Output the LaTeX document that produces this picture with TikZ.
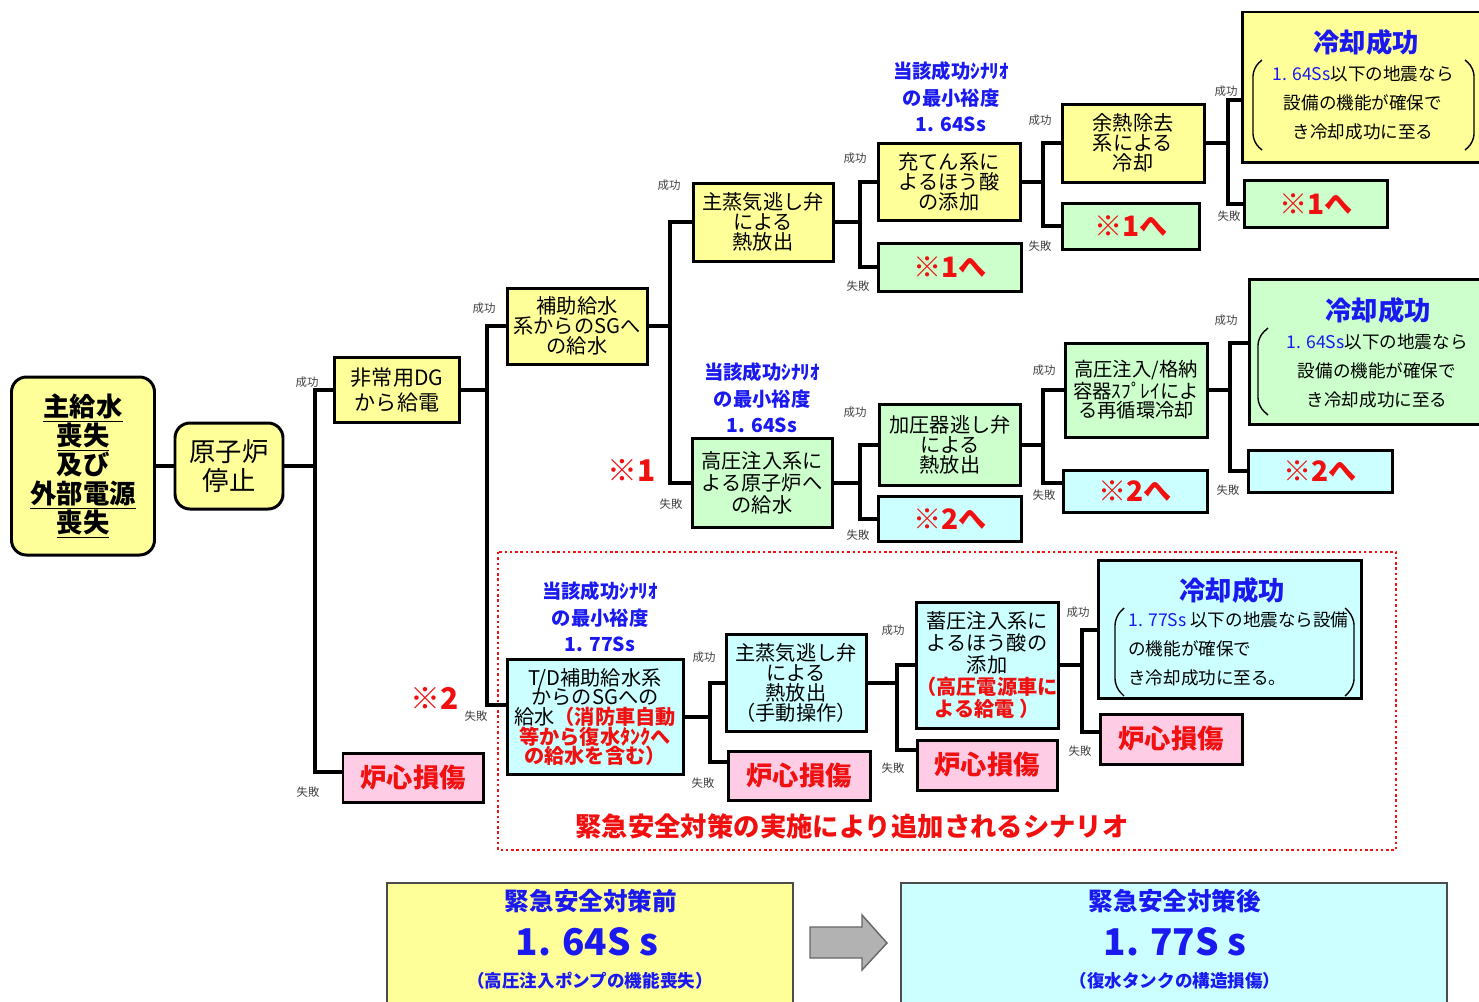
\documentclass[tikz,border=0pt]{standalone}
\usepackage{fontspec}
\setmainfont{Noto Sans CJK JP}
\usepackage{xcolor}
\usetikzlibrary{calc}

\definecolor{ylw}{HTML}{FFFF99}
\definecolor{grn}{HTML}{CCFFCC}
\definecolor{cyn}{HTML}{CCFFFF}
\definecolor{pnk}{HTML}{FFCCE6}
\definecolor{blu}{HTML}{1A1AF0}
\definecolor{rd}{HTML}{F01010}

\tikzset{
    box/.style={draw, line width=1.7pt, align=center, inner sep=0pt, font=\fontsize{11.5}{11.5}\selectfont},
    ybox/.style={box, fill=ylw},
    gbox/.style={box, fill=grn},
    cbox/.style={box, fill=cyn},
    pbox/.style={box, fill=pnk, text=rd, font=\bfseries\fontsize{15}{16}\selectfont},
    gotobox/.style={box, text=rd, font=\bfseries\fontsize{16}{16}\selectfont},
    conn/.style={line width=2.3pt},
    lbl/.style={font=\fontsize{6.5}{7}\selectfont, text=black!75, inner sep=0pt},
    note/.style={text=blu, align=center, inner sep=0pt, font=\bfseries\fontsize{11}{15}\selectfont},
    okttl/.style={text=blu, inner sep=0pt, font=\bfseries\fontsize{15}{15}\selectfont},
    okbody/.style={inner sep=0pt, font=\fontsize{10}{16.5}\selectfont},
    brk/.style={line width=0.8pt, rounded corners=1.6mm},
    redmark/.style={text=rd, inner sep=0pt, font=\bfseries\fontsize{17}{17}\selectfont},
}

\begin{document}
\begin{tikzpicture}[x=0.2mm, y=-0.2mm]
    \useasboundingbox (0,0) rectangle (1479,1001);

    % 起因事象
    \node[ybox, rounded corners=3mm, minimum width=28.6mm, minimum height=35.6mm,
        font=\bfseries\fontsize{15}{16.5}\selectfont] (start) at (83,466)
        {\underline{主給水}\\\underline{喪失}\\及び\\\underline{外部電源}\\\underline{喪失}};
    \node[ybox, rounded corners=3mm, minimum width=21.6mm, minimum height=17.2mm,
        font=\fontsize{15}{16.5}\selectfont] (scram) at (229,466) {原子炉\\停止};

    % 上段のボックス
    \node[ybox, minimum width=25mm, minimum height=13mm, font=\fontsize{12}{14}\selectfont] (dg) at (397,390) {非常用DG\\から給電};
    \node[pbox, minimum width=28mm, minimum height=9.8mm] (cd1) at (413,778) {炉心損傷};
    \node[ybox, minimum width=28mm, minimum height=15.2mm] (aux) at (577,326) {補助給水\\系からのSGへ\\の給水};
    \node[ybox, minimum width=28mm, minimum height=15.6mm] (msv) at (763,222) {主蒸気逃し弁\\による\\熱放出};
    \node[gbox, minimum width=28mm, minimum height=17.8mm, font=\fontsize{11.5}{12.5}\selectfont] (hpi) at (762,483) {高圧注入系に\\よる原子炉へ\\の給水};
    \node[ybox, minimum width=28.4mm, minimum height=15.4mm] (chg) at (949,182) {充てん系に\\よるほう酸\\の添加};
    \node[gotobox, fill=grn, minimum width=28.6mm, minimum height=9.6mm] (r1a) at (950,267) {※1へ};
    \node[ybox, minimum width=28.4mm, minimum height=15.6mm] (rhr) at (1133,143) {余熱除去\\系による\\冷却};
    \node[gotobox, fill=grn, minimum width=27.4mm, minimum height=9.2mm] (r1b) at (1131,226) {※1へ};
    \node[ybox, minimum width=47.8mm, minimum height=30mm] (ok1) at (1362,87) {};
    \node[gotobox, fill=grn, minimum width=28.6mm, minimum height=9.4mm] (r1c) at (1316,204) {※1へ};

    % 中段のボックス
    \node[gbox, minimum width=28.2mm, minimum height=16.2mm] (prz) at (950,445) {加圧器逃し弁\\による\\熱放出};
    \node[gotobox, fill=cyn, minimum width=28.6mm, minimum height=9mm] (r2a) at (950,519) {※2へ};
    \node[gbox, minimum width=28.4mm, minimum height=18.8mm, font=\fontsize{11}{11}\selectfont] (rec) at (1136,390) {高圧注入/格納\\容器ｽﾌﾟﾚｲによ\\る再循環冷却};
    \node[gotobox, fill=cyn, minimum width=28.8mm, minimum height=8.4mm] (r2b) at (1135,491) {※2へ};
    \node[gbox, minimum width=46.4mm, minimum height=29mm] (ok2) at (1365,352) {};
    \node[gotobox, fill=cyn, minimum width=28.8mm, minimum height=8.4mm] (r2c) at (1320,471) {※2へ};

    % 追加シナリオ
    \draw[rd, line width=1.5pt, dash pattern=on 1.4pt off 1.6pt] (498,552) rectangle (1396,850);
    \node[text=rd, inner sep=0pt, font=\bfseries\fontsize{15}{15}\selectfont] (addttl) at (852,826) {緊急安全対策の実施により追加されるシナリオ};
    \node[cbox, minimum width=35.2mm, minimum height=23mm, font=\fontsize{11.5}{11.2}\selectfont] (td) at (595,717)
        {T/D補助給水系\\からのSGへの\\給水\textcolor{rd}{\bfseries（消防車自動}\\\textcolor{rd}{\bfseries 等から復水ﾀﾝｸへ}\\\textcolor{rd}{\bfseries の給水を含む）}};
    \node[cbox, minimum width=28mm, minimum height=19.4mm] (msv2) at (796,683) {主蒸気逃し弁\\による\\熱放出\\（手動操作）};
    \node[pbox, minimum width=28.4mm, minimum height=9.8mm] (cd2) at (799,776) {炉心損傷};
    \node[cbox, minimum width=28.4mm, minimum height=25.2mm, font=\fontsize{11.5}{12.5}\selectfont] (acc) at (987,665)
        {蓄圧注入系に\\よるほう酸の\\添加\\\textcolor{rd}{\bfseries（高圧電源車に}\\\textcolor{rd}{\bfseries よる給電 ）}};
    \node[pbox, minimum width=28mm, minimum height=10mm] (cd3) at (987,765) {炉心損傷};
    \node[cbox, minimum width=52.6mm, minimum height=27.6mm] (ok3) at (1230,629) {};
    \node[pbox, minimum width=28.4mm, minimum height=10mm] (cd4) at (1171,739) {炉心損傷};

    % 冷却成功の中身
    \node[okttl] (ok1t) at (1366,42) {冷却成功};
    \node[okbody, align=center] (ok1b) at (1363,103) {\textcolor{blu}{1. 64Ss}以下の地震なら\\設備の機能が確保で\\き冷却成功に至る};
    \draw[brk] (1262,60) -- (1253,68) -- (1253,142) -- (1262,150);
    \draw[brk] (1465,60) -- (1474,68) -- (1474,142) -- (1465,150);
    \node[okttl] (ok2t) at (1378,310) {冷却成功};
    \node[okbody, align=center] (ok2b) at (1377,371) {\textcolor{blu}{1. 64Ss}以下の地震なら\\設備の機能が確保で\\き冷却成功に至る};
    \draw[brk] (1268,328) -- (1258,337) -- (1258,406) -- (1268,415);
    \node[okttl] (ok3t) at (1232,590) {冷却成功};
    \node[okbody, align=left, anchor=west] (ok3b) at (1128,649) {\textcolor{blu}{1. 77Ss} 以下の地震なら設備\\の機能が確保で\\き冷却成功に至る。};
    \draw[brk] (1124,608) -- (1115,617) -- (1115,687) -- (1124,696);
    \draw[brk] (1345,608) -- (1354,617) -- (1354,687) -- (1345,696);

    % 最小裕度
    \node[note] (n1) at (951,97) {当該成功ｼﾅﾘｵ\\の最小裕度\\1. 64Ss};
    \node[note] (n2) at (762,398) {当該成功ｼﾅﾘｵ\\の最小裕度\\1. 64Ss};
    \node[note] (n3) at (600,617) {当該成功ｼﾅﾘｵ\\の最小裕度\\1. 77Ss};
    \node[redmark] (m1) at (632,470) {※1};
    \node[redmark] (m2) at (435,698) {※2};

    % 分岐点
    \coordinate (j1) at (315,466);
    \coordinate (j2) at (487,390);
    \coordinate (j3) at (670,326);
    \coordinate (j4) at (860,222);
    \coordinate (j5) at (1043,182);
    \coordinate (j6) at (1228,143);
    \coordinate (j7) at (860,483);
    \coordinate (j8) at (1043,445);
    \coordinate (j9) at (1230,390);
    \coordinate (j10) at (710,717);
    \coordinate (j11) at (897,683);
    \coordinate (j12) at (1082,665);

    % 線
    \draw[conn] (start) -- (scram);
    \draw[conn] (scram) -- (j1);
    \draw[conn] (dg.west) -| (j1) |- ([yshift=1.2mm]cd1.west);
    \draw[conn] (dg) -- (j2);
    \draw[conn] (aux.west) -| (j2) |- ([yshift=2.4mm]td.west);
    \draw[conn] (aux) -- (j3);
    \draw[conn] (msv.west) -| (j3) |- (hpi.west);
    \draw[conn] (msv) -- (j4);
    \draw[conn] (chg.west) -| (j4) |- (r1a.west);
    \draw[conn] (chg) -- (j5);
    \draw[conn] (rhr.west) -| (j5) |- (r1b.west);
    \draw[conn] (rhr) -- (j6);
    \draw[conn] ([yshift=-2.6mm]ok1.west) -| (j6) |- (r1c.west);
    \draw[conn] (hpi) -- (j7);
    \draw[conn] (prz.west) -| (j7) |- (r2a.west);
    \draw[conn] (prz) -- (j8);
    \draw[conn] (rec.west) -| (j8) |- ([yshift=1.6mm]r2b.west);
    \draw[conn] (rec) -- (j9);
    \draw[conn] ([yshift=1.8mm]ok2.west) -| (j9) |- (r2c.west);
    \draw[conn] (td) -- (j10);
    \draw[conn] (msv2.west) -| (j10) |- ([yshift=2.8mm]cd2.west);
    \draw[conn] (msv2) -- (j11);
    \draw[conn] (acc.west) -| (j11) |- ([yshift=3mm]cd3.west);
    \draw[conn] (acc) -- (j12);
    \draw[conn] ([yshift=-0.2mm]ok3.west) -| (j12) |- ([yshift=1.4mm]cd4.west);

    % 成功・失敗
    \node[lbl] (s1) at (307,382) {成功};  \node[lbl] (f1) at (308,792) {失敗};
    \node[lbl] (s2) at (484,308) {成功};  \node[lbl] (f2) at (476,716) {失敗};
    \node[lbl] (s3) at (669,185) {成功};  \node[lbl] (f3) at (671,504) {失敗};
    \node[lbl] (s4) at (855,158) {成功};  \node[lbl] (f4) at (858,286) {失敗};
    \node[lbl] (s5) at (1040,120) {成功}; \node[lbl] (f5) at (1040,246) {失敗};
    \node[lbl] (s6) at (1226,91) {成功};  \node[lbl] (f6) at (1229,216) {失敗};
    \node[lbl] (s7) at (855,412) {成功};  \node[lbl] (f7) at (858,535) {失敗};
    \node[lbl] (s8) at (1044,370) {成功}; \node[lbl] (f8) at (1044,495) {失敗};
    \node[lbl] (s9) at (1226,320) {成功}; \node[lbl] (f9) at (1228,490) {失敗};
    \node[lbl] (s10) at (704,657) {成功}; \node[lbl] (f10) at (703,783) {失敗};
    \node[lbl] (s11) at (893,630) {成功}; \node[lbl] (f11) at (893,768) {失敗};
    \node[lbl] (s12) at (1078,612) {成功}; \node[lbl] (f12) at (1080,751) {失敗};

    % 対策前後の比較
    \node[draw=black!70, line width=0.8pt, fill=ylw, minimum width=81.2mm, minimum height=24.4mm] (before) at (590,944) {};
    \node[draw=black!70, line width=0.8pt, fill=cyn, minimum width=109.2mm, minimum height=24.4mm] (after) at (1174,944) {};
    \node[text=blu, font=\bfseries\fontsize{14}{14}\selectfont] (b1) at (591,901) {緊急安全対策前};
    \node[text=blu, font=\bfseries\fontsize{21}{21}\selectfont] (b2) at (587,942) {1. 64S s};
    \node[text=blu, font=\bfseries\fontsize{10}{10}\selectfont] (b3) at (590,981) {（高圧注入ポンプの機能喪失）};
    \node[text=blu, font=\bfseries\fontsize{14}{14}\selectfont] (a1) at (1175,901) {緊急安全対策後};
    \node[text=blu, font=\bfseries\fontsize{21}{21}\selectfont] (a2) at (1175,942) {1. 77S s};
    \node[text=blu, font=\bfseries\fontsize{10}{10}\selectfont] (a3) at (1175,981) {（復水タンクの構造損傷）};
    \draw[fill=black!30, draw=black!60, line width=0.8pt] (810,927) -- (862,927) -- (862,915) -- (887,943) -- (862,970) -- (862,958) -- (810,958) -- cycle;
\end{tikzpicture}
\end{document}
